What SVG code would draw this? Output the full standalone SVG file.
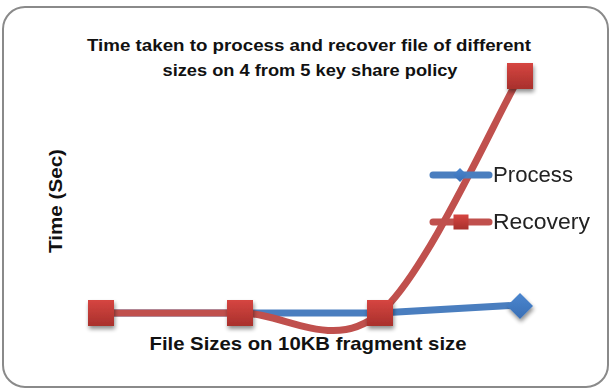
<svg xmlns="http://www.w3.org/2000/svg" width="611" height="390" viewBox="0 0 611 390">
  <defs>
    <linearGradient id="sqGrad" x1="0" y1="0" x2="0" y2="1">
      <stop offset="0" stop-color="#d64541"/>
      <stop offset="1" stop-color="#a8302c"/>
    </linearGradient>
    <linearGradient id="dmGrad" x1="0" y1="0" x2="0" y2="1">
      <stop offset="0" stop-color="#4a86cf"/>
      <stop offset="1" stop-color="#3a6fb5"/>
    </linearGradient>
    <filter id="shadow" x="-50%" y="-50%" width="200%" height="200%">
      <feGaussianBlur in="SourceAlpha" stdDeviation="2"/>
      <feOffset dx="1" dy="3" result="b"/>
      <feComponentTransfer><feFuncA type="linear" slope="0.45"/></feComponentTransfer>
      <feMerge><feMergeNode/><feMergeNode in="SourceGraphic"/></feMerge>
    </filter>
    <rect id="sq" x="-13" y="-13" width="26" height="26" fill="url(#sqGrad)"/>
    <rect id="sqS" x="-7.5" y="-7.5" width="15" height="15" fill="url(#sqGrad)"/>
  </defs>
  <style>
    .lbl { font-family: "Liberation Sans", Arial, sans-serif; font-weight: bold; fill: #111; }
    .leg { font-family: "Liberation Sans", Arial, sans-serif; font-size: 22px; fill: #222; }
    .proc { fill: none; stroke: #4a7ebf; stroke-width: 7; stroke-linecap: round; stroke-linejoin: round; }
    .rec { fill: none; stroke: #c0504d; stroke-width: 7; stroke-linecap: round; stroke-linejoin: round; }
  </style>
  <rect x="3" y="7" width="605" height="380" rx="22" ry="22" fill="#ffffff" stroke="#8a8a8a" stroke-width="2"/>

  <g id="title">
    <text class="lbl" x="309" y="51" font-size="17" text-anchor="middle" textLength="444" lengthAdjust="spacingAndGlyphs">Time taken to process and recover file of different</text>
    <text class="lbl" x="310" y="76" font-size="17" text-anchor="middle" textLength="295" lengthAdjust="spacingAndGlyphs">sizes on 4 from 5 key share policy</text>
  </g>
  <g id="y-axis-label">
    <text class="lbl" x="0" y="0" font-size="19" text-anchor="middle" textLength="104" lengthAdjust="spacingAndGlyphs" transform="translate(62,201) rotate(-90)">Time (Sec)</text>
  </g>
  <g id="x-axis-label">
    <text class="lbl" x="308" y="350" font-size="18.5" text-anchor="middle" textLength="317" lengthAdjust="spacingAndGlyphs">File Sizes on 10KB fragment size</text>
  </g>

  <g id="connectors">
    <path id="process-line" class="proc" d="M101,313 L240,313 L380,313 L520,305"/>
    <path id="recovery-line" class="rec" d="M101,313 L240,313 C286.5,313 333.3,352.5 380,313 C426.7,273.5 496.7,115.5 520,76"/>
  </g>

  <g id="process-markers" filter="url(#shadow)">
    <polygon points="520,293 533,306 520,319 507,306" fill="url(#dmGrad)"/>
  </g>
  <g id="recovery-markers" filter="url(#shadow)">
    <use href="#sq" x="101" y="313"/>
    <use href="#sq" x="240" y="313"/>
    <use href="#sq" x="380" y="313"/>
    <use href="#sq" x="520" y="76"/>
  </g>

  <g id="legend">
    <g id="legend-process">
      <line class="proc" x1="433" y1="175" x2="489" y2="175"/>
      <polygon points="460,168 467,175 460,182 453,175" fill="url(#dmGrad)"/>
      <text class="leg" x="493" y="182" textLength="80" lengthAdjust="spacingAndGlyphs">Process</text>
    </g>
    <g id="legend-recovery">
      <line class="rec" x1="433" y1="222" x2="489" y2="222"/>
      <use href="#sqS" x="461" y="222"/>
      <text class="leg" x="493" y="229" textLength="97" lengthAdjust="spacingAndGlyphs">Recovery</text>
    </g>
  </g>
</svg>
